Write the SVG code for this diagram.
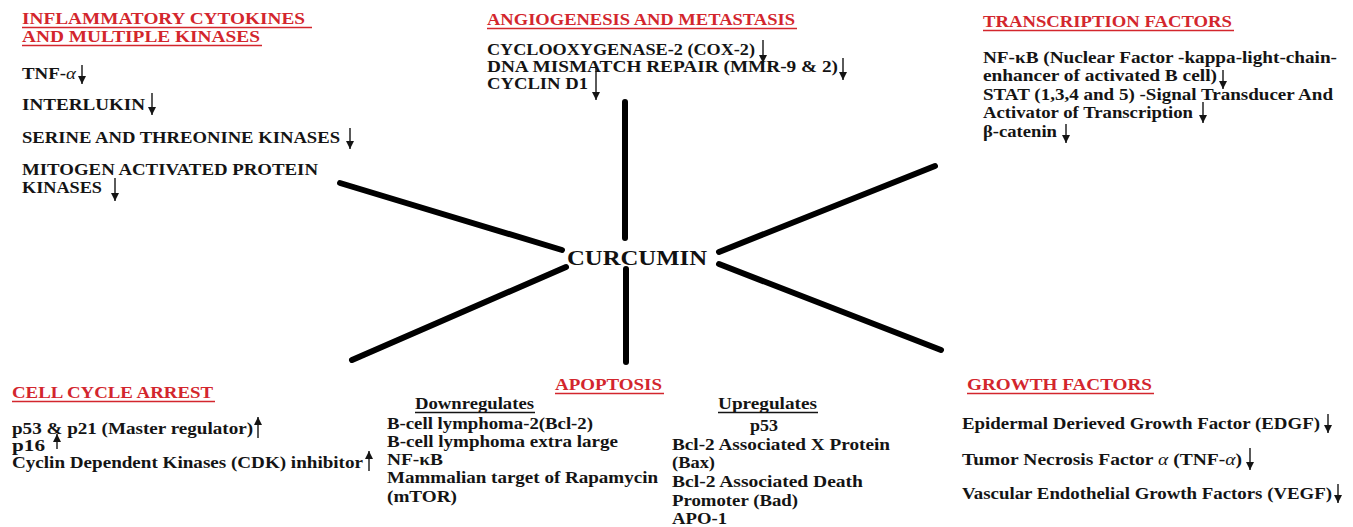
<svg xmlns="http://www.w3.org/2000/svg" width="1353" height="527" viewBox="0 0 1353 527">
<style>
text{font-family:"Liberation Serif","Times New Roman",serif;font-weight:bold;fill:#141414;font-size:17px}
.t{fill:#d3262d;font-size:17px}
.s{font-size:16px}
.ul{stroke:#d3262d;stroke-width:1.5}
.ulb{stroke:#141414;stroke-width:1.4}
.a{stroke:#141414;stroke-width:1.4;marker-end:url(#ah)}
.c{stroke:#000;stroke-width:6;stroke-linecap:round}
.core{font-size:21px;fill:#111}
.it{font-style:italic;font-weight:normal}
</style>
<defs>
<marker id="ah" markerUnits="userSpaceOnUse" markerWidth="8" markerHeight="8" viewBox="0 0 8 8" refX="8" refY="4" orient="auto">
<path d="M0,0 L8,4 L0,8 z" fill="#141414"/>
</marker>
</defs>
<rect width="1353" height="527" fill="#fff"/>

<g id="connectors">
<line class="c" x1="625" y1="102" x2="625" y2="238"/>
<line class="c" x1="626" y1="269" x2="626" y2="362"/>
<line class="c" x1="340" y1="183" x2="562" y2="250"/>
<line class="c" x1="352" y1="360" x2="566" y2="267"/>
<line class="c" x1="935" y1="166" x2="719" y2="252"/>
<line class="c" x1="941" y1="350" x2="719" y2="264"/>
</g>

<g id="curcumin">
<text class="core" x="567" y="265" textLength="140" lengthAdjust="spacingAndGlyphs">CURCUMIN</text>
</g>

<g id="inflammatory">
<text class="t" x="22" y="24" textLength="283" lengthAdjust="spacingAndGlyphs">INFLAMMATORY CYTOKINES</text>
<line class="ul" x1="22" y1="27.5" x2="312" y2="27.5"/>
<text class="t" x="22" y="42" textLength="238" lengthAdjust="spacingAndGlyphs">AND MULTIPLE KINASES</text>
<line class="ul" x1="22" y1="45.5" x2="262" y2="45.5"/>
<text x="22" y="79" textLength="54" lengthAdjust="spacingAndGlyphs">TNF-<tspan class="it">α</tspan></text>
<line class="a" x1="82" y1="65" x2="82" y2="84"/>
<text x="22" y="110" textLength="123" lengthAdjust="spacingAndGlyphs">INTERLUKIN</text>
<line class="a" x1="152" y1="93" x2="152" y2="115"/>
<text x="22" y="143" textLength="318" lengthAdjust="spacingAndGlyphs">SERINE AND THREONINE KINASES</text>
<line class="a" x1="350" y1="128" x2="350" y2="149"/>
<text x="22" y="175" textLength="296" lengthAdjust="spacingAndGlyphs">MITOGEN ACTIVATED PROTEIN</text>
<text x="22" y="193" textLength="80" lengthAdjust="spacingAndGlyphs">KINASES</text>
<line class="a" x1="115" y1="178" x2="115" y2="201"/>
</g>

<g id="angiogenesis">
<text class="t" x="487" y="25" textLength="308" lengthAdjust="spacingAndGlyphs">ANGIOGENESIS AND METASTASIS</text>
<line class="ul" x1="487" y1="28.5" x2="797" y2="28.5"/>
<text class="s" x="487" y="55" textLength="268" lengthAdjust="spacingAndGlyphs">CYCLOOXYGENASE-2 (COX-2)</text>
<line class="a" x1="763" y1="40" x2="763" y2="63"/>
<text class="s" x="487" y="72" textLength="351" lengthAdjust="spacingAndGlyphs">DNA MISMATCH REPAIR (MMR-9 &amp; 2)</text>
<line class="a" x1="843" y1="58" x2="843" y2="80"/>
<text class="s" x="487" y="89" textLength="101" lengthAdjust="spacingAndGlyphs">CYCLIN D1</text>
<line class="a" x1="596" y1="66" x2="596" y2="100"/>
</g>

<g id="transcription">
<text class="t" x="983" y="27" textLength="249" lengthAdjust="spacingAndGlyphs">TRANSCRIPTION FACTORS</text>
<line class="ul" x1="983" y1="30.5" x2="1234" y2="30.5"/>
<text x="983" y="63" textLength="354" lengthAdjust="spacingAndGlyphs">NF-κB (Nuclear Factor -kappa-light-chain-</text>
<text x="983" y="81" textLength="234" lengthAdjust="spacingAndGlyphs">enhancer of activated B cell)</text>
<line class="a" x1="1223" y1="70" x2="1223" y2="89"/>
<text x="983" y="100" textLength="350" lengthAdjust="spacingAndGlyphs">STAT (1,3,4 and 5) -Signal Transducer And</text>
<text x="983" y="118" textLength="210" lengthAdjust="spacingAndGlyphs">Activator of Transcription</text>
<line class="a" x1="1203" y1="102" x2="1203" y2="123"/>
<text x="983" y="137" textLength="74" lengthAdjust="spacingAndGlyphs">β-catenin</text>
<line class="a" x1="1066" y1="124" x2="1066" y2="143"/>
</g>

<g id="cellcycle">
<text class="t" x="12" y="398" textLength="201" lengthAdjust="spacingAndGlyphs">CELL CYCLE ARREST</text>
<line class="ul" x1="12" y1="401.5" x2="215" y2="401.5"/>
<text x="12" y="434" textLength="241" lengthAdjust="spacingAndGlyphs">p53 &amp; p21 (Master regulator)</text>
<line class="a" x1="258" y1="438" x2="258" y2="417"/>
<text x="12" y="451" textLength="33" lengthAdjust="spacingAndGlyphs">p16</text>
<line class="a" x1="57" y1="449" x2="57" y2="434"/>
<text x="12" y="468" textLength="351" lengthAdjust="spacingAndGlyphs">Cyclin Dependent Kinases (CDK) inhibitor</text>
<line class="a" x1="369" y1="471" x2="369" y2="451"/>
</g>

<g id="apoptosis">
<text class="t" x="555" y="390" textLength="107" lengthAdjust="spacingAndGlyphs">APOPTOSIS</text>
<line class="ul" x1="555" y1="393.5" x2="664" y2="393.5"/>
<text x="415" y="409" textLength="119" lengthAdjust="spacingAndGlyphs">Downregulates</text>
<line class="ulb" x1="415" y1="412.5" x2="535" y2="412.5"/>
<text x="718" y="409" textLength="99" lengthAdjust="spacingAndGlyphs">Upregulates</text>
<line class="ulb" x1="718" y1="412.5" x2="818" y2="412.5"/>
<text x="387" y="429" textLength="206" lengthAdjust="spacingAndGlyphs">B-cell lymphoma-2(Bcl-2)</text>
<text x="387" y="447" textLength="231" lengthAdjust="spacingAndGlyphs">B-cell lymphoma extra large</text>
<text x="387" y="465" textLength="56" lengthAdjust="spacingAndGlyphs">NF-κB</text>
<text x="387" y="483" textLength="271" lengthAdjust="spacingAndGlyphs">Mammalian target of Rapamycin</text>
<text x="387" y="502" textLength="70" lengthAdjust="spacingAndGlyphs">(mTOR)</text>
<text x="750" y="431" textLength="28" lengthAdjust="spacingAndGlyphs">p53</text>
<text x="672" y="450" textLength="218" lengthAdjust="spacingAndGlyphs">Bcl-2 Associated X Protein</text>
<text x="672" y="468" textLength="43" lengthAdjust="spacingAndGlyphs">(Bax)</text>
<text x="672" y="487" textLength="191" lengthAdjust="spacingAndGlyphs">Bcl-2 Associated Death</text>
<text x="672" y="506" textLength="126" lengthAdjust="spacingAndGlyphs">Promoter (Bad)</text>
<text x="672" y="524" textLength="55" lengthAdjust="spacingAndGlyphs">APO-1</text>
</g>

<g id="growth">
<text class="t" x="967" y="390" textLength="185" lengthAdjust="spacingAndGlyphs">GROWTH FACTORS</text>
<line class="ul" x1="967" y1="393.5" x2="1154" y2="393.5"/>
<text x="962" y="429" textLength="358" lengthAdjust="spacingAndGlyphs">Epidermal Derieved Growth Factor (EDGF)</text>
<line class="a" x1="1328" y1="414" x2="1328" y2="433"/>
<text x="962" y="465" textLength="280" lengthAdjust="spacingAndGlyphs">Tumor Necrosis Factor <tspan class="it">α</tspan> (TNF-<tspan class="it">α</tspan>)</text>
<line class="a" x1="1250" y1="448" x2="1250" y2="470"/>
<text x="962" y="499" textLength="370" lengthAdjust="spacingAndGlyphs">Vascular Endothelial Growth Factors (VEGF)</text>
<line class="a" x1="1338" y1="484" x2="1338" y2="503"/>
</g>
</svg>
